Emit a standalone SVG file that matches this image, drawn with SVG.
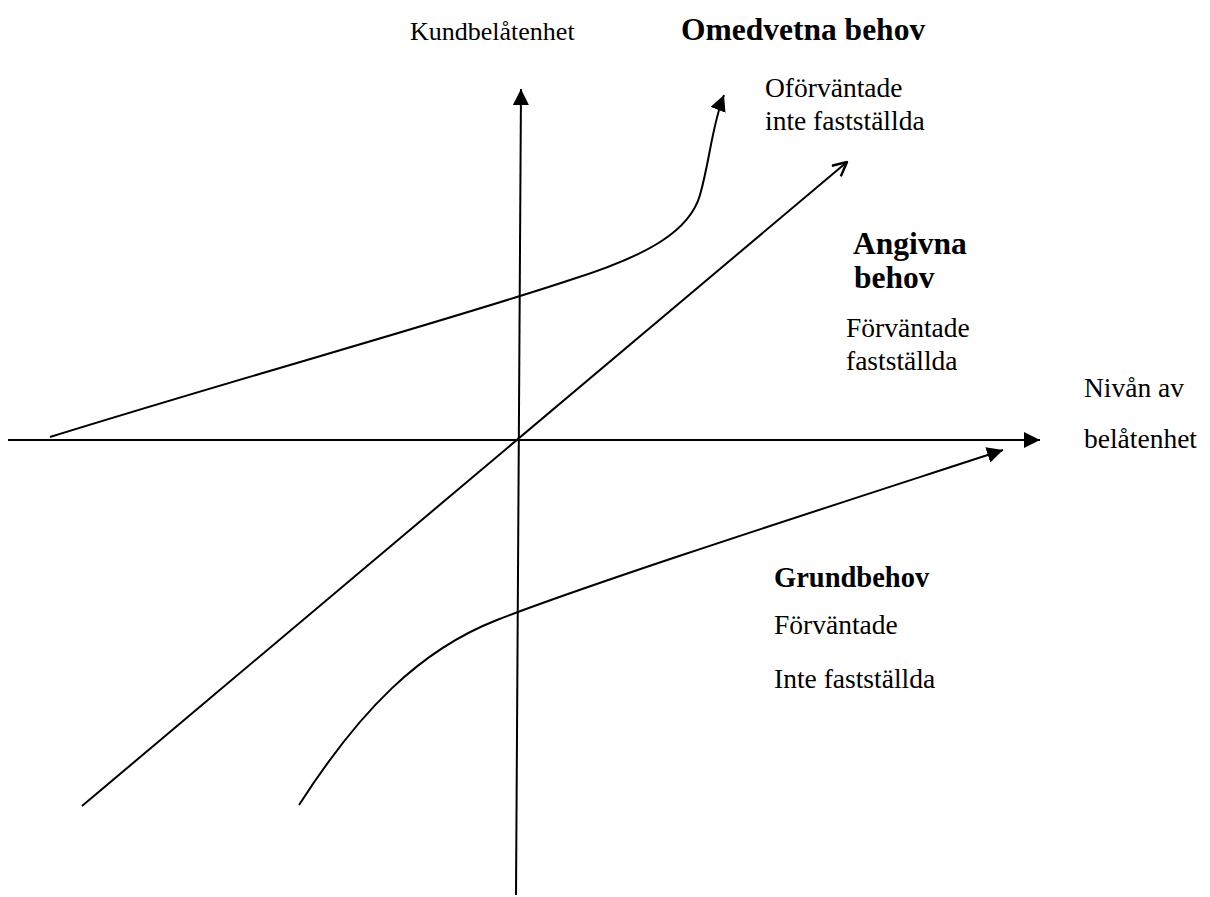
<svg xmlns="http://www.w3.org/2000/svg" width="1210" height="897" viewBox="0 0 1210 897">
<style>
text{font-family:"Liberation Serif","Times New Roman",serif;fill:#000}
.r{font-size:27.5px}
.s{font-size:26px}
.b{font-size:31.5px;font-weight:bold}
.b2{font-size:28.5px;font-weight:bold}
.ln{fill:none;stroke:#000;stroke-width:2}
</style>
<defs>
<marker id="fa" viewBox="0 0 16 16" markerWidth="16" markerHeight="16" refX="16" refY="8" orient="auto" markerUnits="userSpaceOnUse"><path d="M0,0 L16,8 L0,16 Z" fill="#000"/></marker>
<marker id="oa" viewBox="0 0 16 16" markerWidth="16" markerHeight="16" refX="15" refY="8" orient="auto" markerUnits="userSpaceOnUse"><path d="M1,1 L15,8 L1,15" fill="none" stroke="#000" stroke-width="2.5"/></marker>
</defs>
<rect width="1210" height="897" fill="#fff"/>
<g id="connectors">
<path id="y-axis" class="ln" d="M516,895 L521,89" marker-end="url(#fa)"/>
<path id="x-axis" class="ln" d="M8,440 L1040,440" marker-end="url(#fa)"/>
<path id="angivna-line" class="ln" d="M82,806 L847,162" marker-end="url(#oa)"/>
<path id="omedvetna-curve" class="ln" d="M50,437 C250,375 450,320 570,280 C650,255 690,230 700,195 C710,160 712,125 724,95" marker-end="url(#fa)"/>
<path id="grund-curve" class="ln" d="M299,805 C360,710 420,650 497,620 C600,580 850,500 1003,450" marker-end="url(#fa)"/>
</g>
<g id="label-y"><text class="s" x="410" y="40">Kundbelåtenhet</text></g>
<g id="omedvetna"><text class="b" x="681" y="40">Omedvetna behov</text>
<text class="r" x="765" y="97">Oförväntade</text>
<text class="r" x="765" y="130">inte fastställda</text></g>
<g id="angivna"><text class="b" x="853" y="254">Angivna</text>
<text class="b" x="854" y="288">behov</text>
<text class="r" x="846" y="337">Förväntade</text>
<text class="r" x="846" y="370">fastställda</text></g>
<g id="label-x"><text class="r" x="1084" y="397">Nivån av</text>
<text class="r" x="1084" y="448">belåtenhet</text></g>
<g id="grundbehov"><text class="b2" x="774" y="587">Grundbehov</text>
<text class="r" x="774" y="634">Förväntade</text>
<text class="r" x="774" y="688">Inte fastställda</text></g>
</svg>
